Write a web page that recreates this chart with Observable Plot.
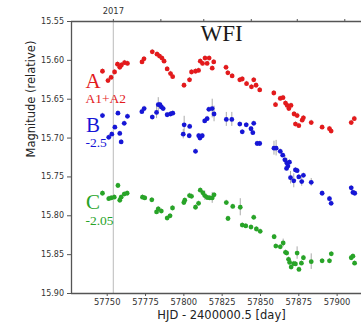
<!DOCTYPE html>
<html>
<head>
<meta charset="utf-8">
<script src="https://cdn.jsdelivr.net/npm/d3@7"></script>
<script src="https://cdn.jsdelivr.net/npm/@observablehq/plot@0.6"></script>
<style>
  html, body { margin: 0; padding: 0; background: #fff; }
  #wrap { position: relative; width: 361px; height: 323px; overflow: hidden; }
  #edge { position: absolute; left: 25px; top: 5px; width: 336px; border-top: 1px solid #e2e2e2; }
  #wrap svg { position: absolute; left: 0; top: 0; }
</style>
</head>
<body>
<div id="wrap"><div id="edge"></div></div>
<script>
// ---- data ----
const seriesNames = ["A", "B", "C"];
const seriesColors = ["#e31a1c", "#1616d6", "#28a428"];

const daysA = [57746.9, 57750.5, 57752.5, 57754.8, 57756.7, 57758.2, 57759.3, 57761.3, 57763.2, 57772.7,
  57774.0, 57779.4, 57782.5, 57784.1, 57785.7, 57787.1, 57789.1, 57791.3, 57792.7, 57800.1,
  57803.7, 57805.0, 57807.6, 57809.6, 57810.7, 57812.2, 57813.8, 57815.2, 57816.5, 57818.5,
  57819.5, 57827.5, 57828.7, 57831.5, 57836.5, 57838.1, 57840.9, 57844.1, 57845.6, 57847.1,
  57849.5, 57858.7, 57859.8, 57862.9, 57864.7, 57866.3, 57867.4, 57868.5, 57869.9, 57871.9,
  57873.9, 57872.8, 57875.0, 57877.2, 57878.0, 57883.1, 57890.2, 57895.0, 57896.1, 57909.2,
  57911.2];
const magA = [15.614, 15.626, 15.622, 15.615, 15.605, 15.609, 15.606, 15.603, 15.604, 15.602,
  15.598, 15.589, 15.592, 15.5945, 15.597, 15.601, 15.611, 15.617, 15.621, 15.632,
  15.625, 15.615, 15.614, 15.613, 15.601, 15.604, 15.597, 15.604, 15.597, 15.610,
  15.602, 15.609, 15.616, 15.620, 15.625, 15.624, 15.630, 15.634, 15.625, 15.632,
  15.638, 15.642, 15.657, 15.649, 15.648, 15.655, 15.658, 15.662, 15.658, 15.669,
  15.671, 15.682, 15.684, 15.677, 15.674, 15.680, 15.686, 15.688, 15.691, 15.680,
  15.675];
const errA = [0.003, 0.003, 0.003, 0.003, 0.003, 0.003, 0.003, 0.003, 0.003, 0.003,
  0.003, 0.003, 0.003, 0.003, 0.003, 0.003, 0.003, 0.003, 0.003, 0.003,
  0.003, 0.003, 0.003, 0.003, 0.003, 0.003, 0.003, 0.003, 0.003, 0.003,
  0.003, 0.003, 0.003, 0.003, 0.003, 0.003, 0.003, 0.003, 0.003, 0.003,
  0.003, 0.003, 0.003, 0.003, 0.003, 0.003, 0.003, 0.003, 0.003, 0.003,
  0.003, 0.003, 0.003, 0.003, 0.003, 0.003, 0.003, 0.003, 0.003, 0.003,
  0.003];

const daysB = [57746.9, 57751.0, 57753.0, 57755.0, 57757.0, 57758.2, 57759.1, 57761.1, 57763.2, 57772.6,
  57774.1, 57779.4, 57782.2, 57783.3, 57784.4, 57785.3, 57786.5, 57789.1, 57791.3, 57792.8,
  57799.6, 57800.2, 57803.8, 57803.5, 57807.6, 57809.7, 57810.5, 57812.0, 57813.6, 57815.2,
  57816.3, 57818.5, 57819.7, 57827.7, 57831.3, 57836.5, 57838.1, 57840.7, 57843.8, 57845.0,
  57845.6, 57847.8, 57849.5, 57858.8, 57860.2, 57862.9, 57864.5, 57865.9, 57867.2, 57867.9,
  57867.0, 57868.9, 57869.6, 57871.7, 57872.8, 57873.9, 57875.0, 57876.9, 57878.0, 57883.1,
  57890.2, 57895.0, 57896.1, 57909.2, 57910.3, 57911.5];
const magB = [15.671, 15.699, 15.695, 15.686, 15.668, 15.694, 15.705, 15.681, 15.672, 15.666,
  15.662, 15.673, 15.667, 15.657, 15.657, 15.660, 15.662, 15.670, 15.669, 15.668,
  15.695, 15.683, 15.685, 15.697, 15.717, 15.697, 15.700, 15.697, 15.678, 15.675,
  15.663, 15.662, 15.669, 15.676, 15.676, 15.682, 15.692, 15.683, 15.688, 15.693,
  15.681, 15.707, 15.707, 15.713, 15.713, 15.717, 15.722, 15.728, 15.732, 15.736,
  15.739, 15.731, 15.751, 15.755, 15.741, 15.742, 15.750, 15.756, 15.748, 15.757,
  15.771, 15.778, 15.784, 15.764, 15.770, 15.771];
const errB = [0.003, 0.003, 0.003, 0.003, 0.003, 0.003, 0.003, 0.003, 0.003, 0.003,
  0.003, 0.003, 0.008, 0.009, 0.003, 0.003, 0.003, 0.003, 0.003, 0.003,
  0.006, 0.011, 0.003, 0.003, 0.003, 0.003, 0.003, 0.003, 0.003, 0.003,
  0.003, 0.012, 0.010, 0.009, 0.009, 0.003, 0.003, 0.003, 0.003, 0.003,
  0.003, 0.003, 0.003, 0.009, 0.010, 0.003, 0.003, 0.006, 0.006, 0.003,
  0.003, 0.003, 0.008, 0.009, 0.003, 0.003, 0.003, 0.006, 0.003, 0.005,
  0.003, 0.003, 0.003, 0.003, 0.003, 0.003];

const daysC = [57746.9, 57751.0, 57752.6, 57754.6, 57757.0, 57758.2, 57759.1, 57761.1, 57763.0, 57773.0,
  57774.5, 57779.1, 57782.2, 57783.3, 57785.3, 57789.1, 57791.0, 57792.6, 57800.0, 57800.6,
  57803.7, 57805.0, 57807.6, 57809.6, 57810.7, 57812.4, 57813.6, 57815.2, 57816.9, 57818.5,
  57819.7, 57827.7, 57828.8, 57831.9, 57836.8, 57838.1, 57840.4, 57843.8, 57845.6, 57847.3,
  57849.8, 57858.9, 57860.0, 57862.9, 57864.8, 57866.3, 57867.1, 57868.3, 57869.0, 57870.0,
  57871.7, 57872.8, 57873.9, 57875.1, 57876.7, 57878.0, 57883.1, 57890.2, 57895.0, 57896.2,
  57909.2, 57910.3, 57911.4];
const magC = [15.771, 15.778, 15.777, 15.776, 15.761, 15.780, 15.776, 15.772, 15.771, 15.776,
  15.777, 15.7795, 15.795, 15.791, 15.794, 15.803, 15.800, 15.790, 15.783, 15.780,
  15.774, 15.775, 15.789, 15.784, 15.767, 15.7705, 15.774, 15.7765, 15.777, 15.777,
  15.773, 15.783, 15.8035, 15.788, 15.789, 15.812, 15.813, 15.8145, 15.802, 15.817,
  15.820, 15.827, 15.839, 15.840, 15.835, 15.847, 15.848, 15.856, 15.860, 15.866,
  15.8615, 15.862, 15.848, 15.869, 15.861, 15.854, 15.859, 15.858, 15.858, 15.849,
  15.854, 15.852, 15.861];
const errC = [0.003, 0.003, 0.003, 0.003, 0.003, 0.003, 0.003, 0.003, 0.003, 0.003,
  0.003, 0.003, 0.003, 0.003, 0.003, 0.003, 0.003, 0.003, 0.003, 0.003,
  0.003, 0.003, 0.003, 0.003, 0.003, 0.003, 0.006, 0.003, 0.003, 0.007,
  0.003, 0.003, 0.003, 0.003, 0.011, 0.003, 0.003, 0.003, 0.003, 0.003,
  0.003, 0.003, 0.003, 0.003, 0.005, 0.003, 0.003, 0.003, 0.003, 0.003,
  0.003, 0.003, 0.008, 0.003, 0.003, 0.003, 0.010, 0.003, 0.003, 0.003,
  0.003, 0.003, 0.003];

const yTicks = [15.55, 15.60, 15.65, 15.70, 15.75, 15.80, 15.85, 15.90];
const xTicks = [57750, 57775, 57800, 57825, 57850, 57875, 57900];
const monthTicks = [57754, 57785, 57813, 57844, 57874, 57905];
const monthLabels = ["2017", "", "", "", "", ""];
const newYearDay = 57754;
const xDomain = [57726.7, 57915.9];
const yDomain = [15.55, 15.90];

const titleText = "WFI";
const xLabel = "HJD - 2400000.5 [day]";
const yLabel = "Magnitude (relative)";
const labelTexts = ["A", "A1+A2", "B", "-2.5", "C", "-2.05"];
const labelSeries = ["A", "A", "B", "B", "C", "C"];

// ---- build table ----
const series = [
  {name: "A", days: daysA, mags: magA, errs: errA},
  {name: "B", days: daysB, mags: magB, errs: errB},
  {name: "C", days: daysC, mags: magC, errs: errC}
];
const rows = series.flatMap(s => s.days.map((d, i) => ({series: s.name, day: d, mag: s.mags[i], err: s.errs[i]})));
const colorOf = new Map(seriesNames.map((n, i) => [n, seriesColors[i]]));
const monthLabelMap = new Map(monthTicks.map((d, i) => [d, monthLabels[i]]));

// label layout (styling only)
const labelLayout = [
  {dx: 14, dy: 66, size: 21},
  {dx: 14, dy: 81, size: 13.5},
  {dx: 14.5, dy: 110, size: 21},
  {dx: 14, dy: 125, size: 13.5},
  {dx: 14.5, dy: 187.5, size: 21},
  {dx: 14, dy: 203, size: 13.5}
];

const labelMarks = labelTexts.map((t, i) => Plot.text([t], {
  frameAnchor: "top-left", dx: labelLayout[i].dx, dy: labelLayout[i].dy,
  textAnchor: "start", lineAnchor: "bottom",
  fontFamily: "Liberation Serif", fontSize: labelLayout[i].size,
  fill: colorOf.get(labelSeries[i])
}));

const spine = "#555";
const chart = Plot.plot({
  width: 361, height: 323,
  marginLeft: 71, marginRight: 0, marginTop: 21, marginBottom: 30,
  x: {domain: xDomain},
  y: {domain: yDomain, reverse: true},
  color: {domain: seriesNames, range: seriesColors},
  style: {fontFamily: "DejaVu Sans", fontSize: "8.4px", color: "#333", background: "white"},
  marks: [
    Plot.ruleX([newYearDay], {stroke: "#c6c6c6", strokeWidth: 1.2}),
    Plot.ruleX(rows, {x: "day", y1: d => d.mag - d.err, y2: d => d.mag + d.err, stroke: "#a0a0a0", strokeWidth: 0.9}),
    Plot.dot(rows, {x: "day", y: "mag", fill: "series", r: 2.4}),
    Plot.ruleY([yDomain[0]], {stroke: spine, strokeWidth: 1.3}),
    Plot.ruleY([yDomain[1]], {stroke: spine, strokeWidth: 1.3}),
    Plot.ruleX([xDomain[0]], {stroke: spine, strokeWidth: 1.3}),
    Plot.axisY({ticks: yTicks, tickFormat: ".2f", tickSize: 4, tickPadding: 3.5, fontSize: 8, label: null, stroke: spine, fill: "#333"}),
    Plot.axisX({anchor: "bottom", ticks: xTicks, tickFormat: "d", tickSize: 3, tickPadding: 3, fontSize: 8.4, label: null, stroke: spine, fill: "#333"}),
    Plot.axisX({anchor: "top", ticks: monthTicks, tickFormat: d => monthLabelMap.get(d), tickSize: 3, tickPadding: 5, fontSize: 8.4, label: null, stroke: spine, fill: "#333"}),
    Plot.text([titleText], {frameAnchor: "top", dx: 5, dy: 19, lineAnchor: "bottom", fontFamily: "Liberation Serif", fontSize: 23, fill: "#1a1a1a"}),
    Plot.text([xLabel], {frameAnchor: "bottom", dx: 5, dy: 25, lineAnchor: "bottom", fontSize: 11.5, fill: "#222"}),
    Plot.text([yLabel], {frameAnchor: "left", dx: -40, rotate: -90, lineAnchor: "middle", fontSize: 11.5, fill: "#222"}),
    ...labelMarks
  ]
});
document.getElementById("wrap").appendChild(chart);
</script>
</body>
</html>
